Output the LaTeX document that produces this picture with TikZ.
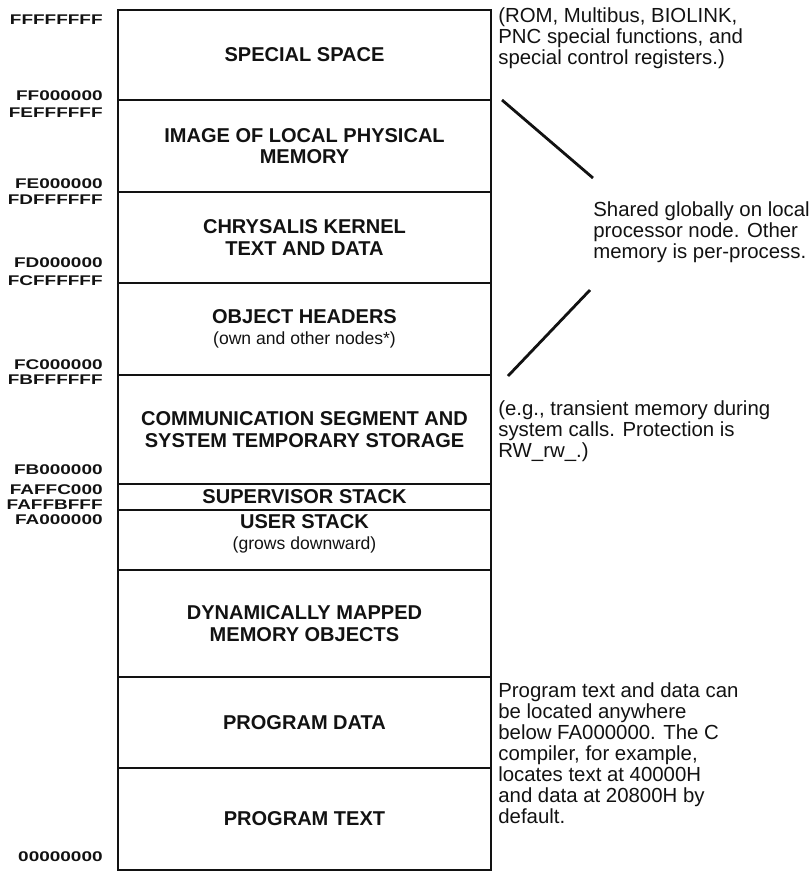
\documentclass[tikz,border=0pt]{standalone}
\usepackage{fontspec}
\setmainfont{Liberation Sans}
\newfontfamily\addrfont[FakeStretch=1.35]{Liberation Sans Bold}
\usepackage{tikz}
\usepackage{xcolor}
\definecolor{scanink}{rgb}{0.07,0.07,0.07}
\usetikzlibrary{positioning}

\tikzset{
	seg/.style={draw=scanink,line width=1.4pt,minimum width=7.46cm,inner sep=0pt,outer sep=0pt,
		align=center,text=scanink,font=\bfseries\fontsize{11.4pt}{12.2pt}\selectfont},
	segtxt/.style={align=center,inner sep=0pt,text=scanink,font=\bfseries\fontsize{11.4pt}{12.2pt}\selectfont},
	addr/.style={anchor=east,inner sep=0pt,text=scanink,font=\addrfont\fontsize{8pt}{9pt}\selectfont},
	note/.style={anchor=west,align=left,inner sep=0pt,text=scanink,font=\fontsize{11.6pt}{11.9pt}\selectfont},
	slash/.style={draw=scanink,line width=1.6pt}
}
\newcommand{\parenfont}{\mdseries\fontsize{10pt}{11pt}\selectfont}

\begin{document}
\begin{tikzpicture}[x=0.02cm,y=-0.02cm]
	\useasboundingbox (0,0) rectangle (811,877);
	
	% memory segments, top to bottom
	\node[seg,minimum height=1.8cm] (special) at (304.5,55) {SPECIAL SPACE};
	\node[seg,minimum height=1.84cm,below=0pt of special] (image) {IMAGE OF LOCAL PHYSICAL\\MEMORY};
	\node[seg,minimum height=1.82cm,below=0pt of image] (kernel) {CHRYSALIS KERNEL\\TEXT AND DATA};
	\node[seg,minimum height=1.84cm,below=0pt of kernel] (headers) {OBJECT HEADERS\\{\parenfont (own and other nodes*)}};
	\node[seg,minimum height=2.18cm,below=0pt of headers] (comm) {COMMUNICATION SEGMENT AND\\SYSTEM TEMPORARY STORAGE};
	\node[seg,minimum height=0.52cm,below=0pt of comm] (super) {SUPERVISOR STACK};
	\node[seg,minimum height=1.2cm,below=0pt of super] (user) {};
	\node[seg,minimum height=2.14cm,below=0pt of user] (dynamic) {DYNAMICALLY MAPPED\\MEMORY OBJECTS};
	\node[seg,minimum height=1.82cm,below=0pt of dynamic] (progdata) {PROGRAM DATA};
	\node[seg,minimum height=2.04cm,below=0pt of progdata] (progtext) {PROGRAM TEXT};
	
	\node[segtxt,yshift=0.12cm] (userlbl) at (user.center) {USER STACK\\{\parenfont (grows downward)}};
	
	% addresses
	\node[addr] (a0) at (103,20) {FFFFFFFF};
	\node[addr] (a1) at (103,96) {FF000000};
	\node[addr] (a2) at (103,113) {FEFFFFFF};
	\node[addr] (a3) at (103,184) {FE000000};
	\node[addr] (a4) at (103,200) {FDFFFFFF};
	\node[addr] (a5) at (103,263) {FD000000};
	\node[addr] (a6) at (103,281) {FCFFFFFF};
	\node[addr] (a7) at (103,365) {FC000000};
	\node[addr] (a8) at (103,380) {FBFFFFFF};
	\node[addr] (a9) at (103,470) {FB000000};
	\node[addr] (a10) at (103,490) {FAFFC000};
	\node[addr] (a11) at (103,505) {FAFFBFFF};
	\node[addr] (a12) at (103,520) {FA000000};
	\node[addr] (a13) at (103,857) {00000000};
	
	% remarks
	\node[note] (romnote) at (498,38) {(ROM, Multibus, BIOLINK,\\PNC special functions, and\\special control registers.)};
	\node[note] (shared) at (593,232) {Shared globally on local\\processor node. Other\\memory is per-process.};
	\node[note] (transient) at (498,431) {(e.g., transient memory during\\system calls. Protection is\\RW\_rw\_.)};
	\node[note] (anywhere) at (498,753) {Program text and data can\\be located anywhere\\below FA000000. The C\\compiler, for example,\\locates text at 40000H\\and data at 20800H by\\default.};
	
	\coordinate[] (s1) at (502,100);
	\coordinate[] (s2) at (593,178);
	\coordinate[] (s3) at (590,290);
	\coordinate[] (s4) at (508,376);
	\draw[slash](s1)--(s2);
	\draw[slash](s3)--(s4);
	%\draw[slash](shared.north west)--(s1);
\end{tikzpicture}
\end{document}
